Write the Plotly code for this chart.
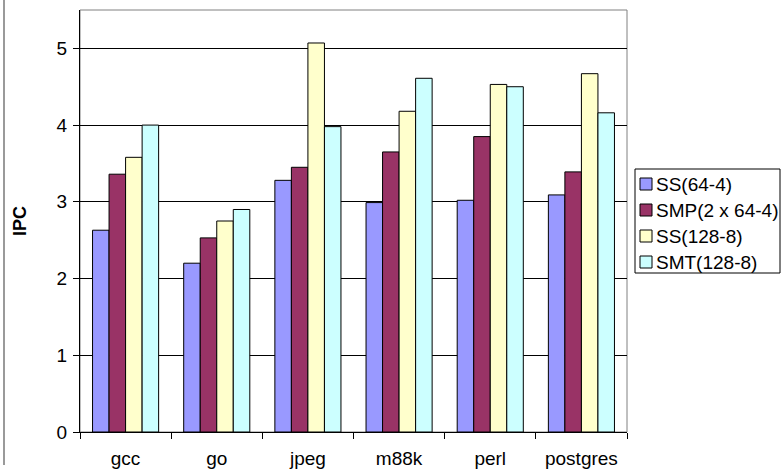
import plotly.graph_objects as go

categories = ["gcc", "go", "jpeg", "m88k", "perl", "postgres"]
series_names = ["SS(64-4)", "SMP(2 x 64-4)", "SS(128-8)", "SMT(128-8)"]
ss64 = [2.63, 2.20, 3.28, 2.99, 3.02, 3.09]
smp = [3.36, 2.53, 3.45, 3.65, 3.85, 3.39]
ss128 = [3.58, 2.75, 5.07, 4.18, 4.53, 4.67]
smt = [4.00, 2.90, 3.98, 4.61, 4.50, 4.16]
colors = ["#9999FF", "#993366", "#FFFFCC", "#CCFFFF"]
y_ticks = [0, 1, 2, 3, 4, 5]

W, H = 781, 470
L, R, T, B = 80, 154, 10, 38
PW, PH = W - L - R, H - T - B
FONT = "Arial, Liberation Sans, sans-serif"
FS = 19


def px_x(p):
    return (p - L) / PW


def px_y(p):
    return (H - B - p) / PH


fig = go.Figure()
for name, vals, col in zip(series_names, [ss64, smp, ss128, smt], colors):
    fig.add_trace(go.Bar(
        x=categories, y=vals, name=name,
        marker=dict(color=col, line=dict(color="#000000", width=1)),
        showlegend=False,
    ))

shapes = [
    # gray plot-area border (top/right)
    dict(type="rect", xref="paper", yref="paper", x0=0, x1=1, y0=0, y1=1,
         line=dict(color="#808080", width=1), layer="below"),
    # outer chart frame (left edge)
    dict(type="line", xref="paper", yref="paper",
         x0=px_x(4), x1=px_x(4), y0=px_y(-5), y1=px_y(465),
         line=dict(color="#9a9a9a", width=2)),
]
annotations = [
    dict(text="<b>IPC</b>", xref="paper", yref="paper", x=px_x(20), y=0.5,
         textangle=-90, showarrow=False, xanchor="center", yanchor="middle",
         font=dict(family=FONT, size=FS - 1, color="#000")),
]

# legend (drawn manually to match the compact Excel-style legend)
lx0, lx1, ly0, ly1 = 635, 780, 169, 273
shapes.append(dict(type="rect", xref="paper", yref="paper",
                   x0=px_x(lx0), x1=px_x(lx1), y0=px_y(ly1), y1=px_y(ly0),
                   line=dict(color="#000000", width=1), fillcolor="#FFFFFF"))
row0, step, sw = 184, 26, 12
for i, (name, col) in enumerate(zip(series_names, colors)):
    cy = row0 + i * step
    shapes.append(dict(type="rect", xref="paper", yref="paper",
                       x0=px_x(640), x1=px_x(640 + sw),
                       y0=px_y(cy + sw / 2), y1=px_y(cy - sw / 2),
                       line=dict(color="#000000", width=1), fillcolor=col))
    annotations.append(dict(text=name, xref="paper", yref="paper",
                            x=px_x(654), y=px_y(cy), xanchor="left", yanchor="middle",
                            showarrow=False,
                            font=dict(family=FONT, size=FS, color="#000")))

fig.update_layout(
    width=W, height=H,
    margin=dict(l=L, r=R, t=T, b=B, autoexpand=False),
    paper_bgcolor="#FFFFFF", plot_bgcolor="#FFFFFF",
    barmode="group", bargap=0.275, bargroupgap=0,
    font=dict(family=FONT, size=FS, color="#000"),
    shapes=shapes, annotations=annotations,
    showlegend=False,
)
fig.update_xaxes(
    type="category", tickson="boundaries", ticks="outside", ticklen=6,
    tickcolor="#000", showline=True, linecolor="#000", linewidth=1,
    showgrid=False, tickfont=dict(family=FONT, size=FS, color="#000"),
    ticklabelstandoff=9, fixedrange=True,
)
fig.update_yaxes(
    range=[0, 5.5], tickvals=y_ticks, ticks="outside", ticklen=6,
    tickcolor="#000", showline=True, linecolor="#000", linewidth=1,
    showgrid=True, gridcolor="#000", gridwidth=1, zeroline=False,
    tickfont=dict(family=FONT, size=FS, color="#000"), ticklabelstandoff=2,
    fixedrange=True,
)

fig.write_html(
    "out.html",
    config={"displayModeBar": False},
    post_script="document.body.style.margin='0';document.body.style.overflow='hidden';",
)
